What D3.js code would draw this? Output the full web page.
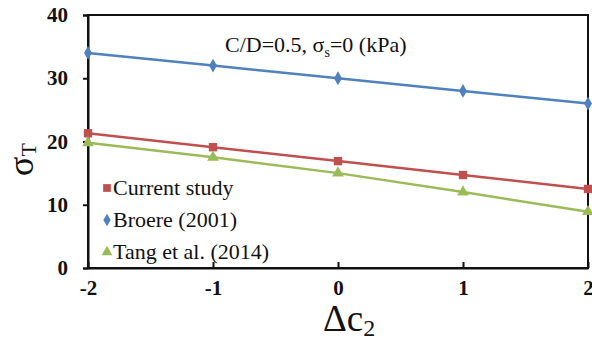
<!DOCTYPE html>
<html><head><meta charset="utf-8">
<script src="https://cdn.jsdelivr.net/npm/d3@7"></script>
</head><body style="margin:0">
<svg id="c" width="592" height="341" font-family="Liberation Serif"></svg>
<script>
const xValues = [-2, -1, 0, 1, 2];
const currentStudy = [21.3, 19.1, 16.9, 14.7, 12.5];
const broere = [34, 32, 30, 28, 26];
const tang = [19.8, 17.5, 15.0, 12.0, 8.9];
const yTicks = [0, 10, 20, 30, 40];
const xTicks = [-2, -1, 0, 1, 2];
const seriesNames = ["Current study", "Broere (2001)", "Tang et al. (2014)"];

const FONT = "Liberation Serif";
const svg = d3.select("#c");
const L = 88, R = 588, T = 15, B = 268;
const x = d3.scaleLinear().domain([-2, 2]).range([L, R]);
const y = d3.scaleLinear().domain([0, 40]).range([B, T]);

const series = [
  {name: seriesNames[0], values: currentStudy, color: "#C0504D", sym: d3.symbolSquare, size: 70},
  {name: seriesNames[1], values: broere, color: "#4F81BD", sym: d3.symbolDiamond, size: 55},
  {name: seriesNames[2], values: tang, color: "#9BBB59", sym: d3.symbolTriangle, size: 60}
];

svg.append("rect").attr("x", L).attr("y", T).attr("width", R - L).attr("height", B - T)
  .attr("fill", "none").attr("stroke", "#111").attr("stroke-width", 2);

const yAx = svg.append("g").attr("transform", `translate(${L},0)`)
  .call(d3.axisLeft(y).tickValues(yTicks).tickSize(5).tickPadding(15).tickFormat(d => String(d)));
yAx.attr("font-family", FONT).attr("font-size", 21).attr("font-weight", "bold");
yAx.select(".domain").attr("stroke", "#111").attr("stroke-width", 2);
yAx.selectAll(".tick line").attr("stroke", "#111").attr("stroke-width", 2);
yAx.selectAll("text").attr("fill", "#111");

const xAx = svg.append("g").attr("transform", `translate(0,${B})`)
  .call(d3.axisBottom(x).tickValues(xTicks).tickSizeInner(-6).tickSizeOuter(0).tickPadding(12).tickFormat(d => String(d)));
xAx.attr("font-family", FONT).attr("font-size", 21).attr("font-weight", "bold");
xAx.select(".domain").attr("stroke", "#111").attr("stroke-width", 2);
xAx.selectAll(".tick line").attr("stroke", "#111").attr("stroke-width", 2);
xAx.selectAll("text").attr("fill", "#111");

const line = d3.line().x((d, i) => x(xValues[i])).y(d => y(d));
series.forEach(s => {
  svg.append("path").datum(s.values).attr("d", line).attr("fill", "none")
    .attr("stroke", s.color).attr("stroke-width", 2.5);
  svg.selectAll(null).data(s.values).enter().append("path")
    .attr("d", d3.symbol().type(s.sym).size(s.size))
    .attr("transform", (d, i) => `translate(${x(xValues[i])},${y(d)})`)
    .attr("fill", s.color);
});

const ann = svg.append("text").attr("x", 225).attr("y", 52).attr("font-family", FONT).attr("font-size", 22).attr("fill", "#111");
ann.append("tspan").text("C/D=0.5, σ");
ann.append("tspan").attr("font-size", 14).attr("dy", 5).text("s");
ann.append("tspan").attr("dy", -5).text("=0 (kPa)");

series.forEach((s, i) => {
  const yy = 195 + i * 32;
  svg.append("path").attr("d", d3.symbol().type(s.sym).size(s.size * 0.85))
    .attr("transform", `translate(107,${yy - 7})`).attr("fill", s.color);
  svg.append("text").attr("x", 113).attr("y", yy).attr("font-family", FONT).attr("font-size", 22)
    .attr("fill", "#111").text(s.name);
});

const xt = svg.append("text").attr("x", 323).attr("y", 331).attr("font-family", FONT).attr("font-size", 37).attr("fill", "#111");
xt.append("tspan").text("Δc");
xt.append("tspan").attr("font-size", 24).attr("dy", 5).text("2");

const yt = svg.append("text").attr("transform", "translate(33,176) rotate(-90)").attr("font-family", FONT).attr("font-size", 36).attr("fill", "#111");
yt.append("tspan").text("σ");
yt.append("tspan").attr("font-size", 22).attr("dy", 3).text("T");
</script>
</body></html>
